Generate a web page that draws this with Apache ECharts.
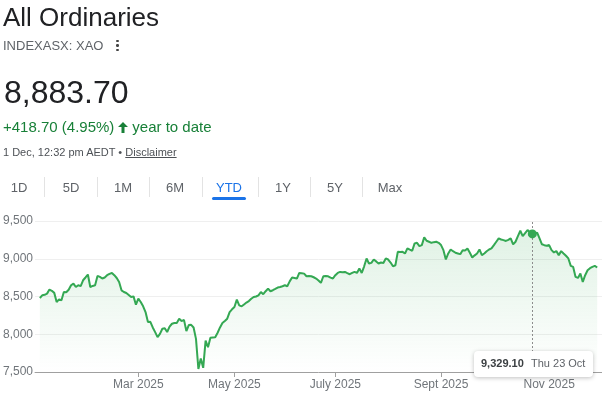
<!DOCTYPE html>
<html>
<head>
<meta charset="utf-8">
<title>All Ordinaries</title>
<script src="https://cdn.jsdelivr.net/npm/echarts@6/dist/echarts.min.js"></script>
<style>
  html, body { margin: 0; padding: 0; background: #fff; }
  body { width: 602px; height: 399px; position: relative; overflow: hidden; font-family: Arial, "Liberation Sans", sans-serif; }
  #chart { position: absolute; left: 0; top: 0; width: 602px; height: 399px; }
  .t { position: absolute; white-space: nowrap; }
  .title { left: 3px; top: 4px; font-size: 26px; line-height: 26px; color: #202124; }
  .ticker { left: 3px; top: 39px; font-size: 13px; line-height: 13px; color: #5f6368; }
  .dot { position: absolute; left: 116px; width: 2.5px; height: 2.5px; border-radius: 50%; background: #444; }
  .price { left: 4px; top: 76px; font-size: 32px; line-height: 32px; color: #202124; }
  .change { left: 3px; top: 119px; font-size: 15px; line-height: 15px; color: #188038; }
  .change svg { vertical-align: -1px; margin: 0 4px 0 4px; }
  .stamp { left: 3px; top: 147px; font-size: 11px; line-height: 11px; color: #4d5156; }
  .stamp u { color: #4d5156; }
  .tab { position: absolute; top: 181px; width: 50px; text-align: center; font-size: 13px; line-height: 13px; color: #5f6368; }
  .sep { position: absolute; top: 177px; width: 1px; height: 20px; background: #e3e3e3; }
  .under { position: absolute; left: 212px; top: 197px; width: 34px; height: 3px; border-radius: 2px; background: #1a73e8; }
</style>
</head>
<body>
<div id="chart"></div>

<div class="t title">All Ordinaries</div>
<div class="t ticker">INDEXASX: XAO</div>
<div class="dot" style="top:39.5px"></div>
<div class="dot" style="top:44px"></div>
<div class="dot" style="top:48.5px"></div>
<div class="t price">8,883.70</div>
<div class="t change">+418.70 (4.95%)<svg width="10" height="11" viewBox="0 0 10 11"><path d="M5 0 L10 5 L6.5 5 L6.5 11 L3.5 11 L3.5 5 L0 5 Z" fill="#188038"/></svg>year to date</div>
<div class="t stamp">1 Dec, 12:32 pm AEDT &bull; <u>Disclaimer</u></div>

<div class="tab" style="left:-6px">1D</div>
<div class="tab" style="left:46px">5D</div>
<div class="tab" style="left:98px">1M</div>
<div class="tab" style="left:150px">6M</div>
<div class="tab" style="left:204px;color:#1a73e8">YTD</div>
<div class="tab" style="left:258px">1Y</div>
<div class="tab" style="left:310px">5Y</div>
<div class="tab" style="left:365px">Max</div>
<div class="sep" style="left:44px"></div>
<div class="sep" style="left:97px"></div>
<div class="sep" style="left:149px"></div>
<div class="sep" style="left:202px"></div>
<div class="sep" style="left:258px"></div>
<div class="sep" style="left:310px"></div>
<div class="sep" style="left:362px"></div>
<div class="under"></div>

<script>
// closing values, one per ASX trading day (2 Jan - 1 Dec 2025)
const jan = [8480, 8516, 8522, 8538, 8592, 8575, 8548, 8427, 8462, 8450, 8560, 8556, 8590, 8649, 8671, 8626, 8649, 8638, 8715, 8752, 8791];
const feb = [8626, 8640, 8649, 8773, 8760, 8738, 8752, 8782, 8800, 8812, 8782, 8745, 8693, 8582, 8560, 8546, 8520, 8493, 8502, 8392];
const mar = [8472, 8427, 8370, 8294, 8161, 8165, 8090, 8028, 7961, 8005, 8073, 8080, 8030, 8100, 8139, 8148, 8150, 8206, 8175, 8190, 8042];
const apr = [8122, 8125, 8090, 7939, 7540, 7680, 7555, 7916, 7828, 7953, 7958, 7960, 8020, 8090, 8148, 8175, 8206, 8294, 8330];
const may = [8361, 8459, 8383, 8370, 8395, 8420, 8440, 8470, 8493, 8500, 8516, 8560, 8530, 8570, 8605, 8570, 8583, 8600, 8618, 8625, 8636, 8649];
const jun = [8636, 8700, 8751, 8745, 8738, 8812, 8808, 8803, 8768, 8770, 8768, 8755, 8738, 8712, 8680, 8768, 8772, 8768, 8750, 8738];
const jul = [8782, 8812, 8826, 8822, 8826, 8810, 8795, 8812, 8826, 8812, 8871, 8812, 8900, 9004, 8937, 8945, 8990, 8965, 8937, 8950, 8945, 9004, 8990];
const aug = [8950, 8901, 8914, 9092, 9090, 9092, 9070, 9137, 9120, 9106, 9203, 9211, 9168, 9181, 9283, 9238, 9225, 9211, 9220, 9225, 9211];
const sep = [9181, 9114, 8990, 9070, 9123, 9100, 9079, 9070, 9061, 9114, 9110, 9137, 9080, 9017, 9045, 9070, 9123, 9048, 9070, 9100, 9123, 9137];
const oct = [9180, 9225, 9270, 9255, 9247, 9236, 9250, 9270, 9190, 9225, 9300, 9371, 9300, 9340, 9380, 9350, 9329.1, 9336, 9345, 9270, 9192, 9180, 9172];
const nov = [9181, 9114, 9083, 9101, 9048, 9101, 9070, 9040, 9004, 8905, 8892, 8759, 8746, 8804, 8693, 8782, 8848, 8875, 8892, 8905];
const dec = [8883.7];

const closes = [].concat(jan, feb, mar, apr, may, jun, jul, aug, sep, oct, nov, dec);

// trading-day index of the first session of each labelled month
const tickIdx = [41, 81, 123, 167, 212];
const tickLabels = ['Mar 2025', 'May 2025', 'July 2025', 'Sept 2025', 'Nov 2025'];

// hovered point
const hoverIdx = 205;
const hoverDate = 'Thu 23 Oct';

const green = '#34a853';
const fmt = (v) => v.toLocaleString('en-US');

let myChart = echarts.init(document.getElementById('chart'));
myChart.setOption({
  animation: false,
  grid: { left: 35, right: 0, top: 221, bottom: 27 },
  xAxis: {
    type: 'value',
    min: -2,
    max: 234,
    splitLine: { show: false },
    axisLine: { show: true, lineStyle: { color: '#a0a0a0', width: 1 } },
    axisTick: { show: true, customValues: tickIdx, length: 5, lineStyle: { color: '#a0a0a0' } },
    axisLabel: {
      customValues: tickIdx,
      margin: 7,
      color: '#70757a',
      fontSize: 12,
      fontFamily: 'Arial',
      formatter: function (v) {
        return tickLabels[tickIdx.indexOf(v)];
      }
    }
  },
  yAxis: {
    type: 'value',
    min: 7500,
    max: 9500,
    interval: 500,
    axisLine: { show: false },
    axisTick: { show: false },
    splitLine: { lineStyle: { color: '#efefef', width: 1 } },
    axisLabel: { margin: 2, color: '#70757a', fontSize: 12, fontFamily: 'Arial', formatter: fmt }
  },
  series: [
    {
      type: 'line',
      data: closes.map((v, i) => [i, v]),
      showSymbol: false,
      lineStyle: { color: green, width: 2 },
      areaStyle: {
        origin: 'start',
        color: new echarts.graphic.LinearGradient(0, 0, 0, 1, [
          { offset: 0, color: 'rgba(52,168,83,0.22)' },
          { offset: 1, color: 'rgba(52,168,83,0)' }
        ])
      },
      markLine: {
        silent: true,
        symbol: 'none',
        label: { show: false },
        lineStyle: { color: '#8c8c8c', type: [2, 2], width: 1 },
        data: [{ xAxis: hoverIdx }]
      },
      markPoint: {
        symbol: 'circle',
        symbolSize: 9,
        itemStyle: { color: green },
        label: { show: false },
        data: [{ coord: [hoverIdx, closes[hoverIdx]] }]
      }
    }
  ]
});

// hover tooltip box under the marker
const p = myChart.convertToPixel({ gridIndex: 0 }, [hoverIdx, closes[hoverIdx]]);
const axisY = myChart.convertToPixel({ yAxisIndex: 0 }, 7500);
const bx = Math.round(p[0]) - 58;
const by = Math.round(axisY) - 21;
myChart.setOption({
  graphic: [
    {
      type: 'rect',
      z: 100,
      shape: { x: bx, y: by, width: 119, height: 26, r: 4 },
      style: { fill: '#fff', shadowBlur: 4, shadowColor: 'rgba(0,0,0,0.25)', shadowOffsetY: 1 }
    },
    {
      type: 'text',
      z: 101,
      x: bx + 7,
      y: by + 13,
      style: {
        text: closes[hoverIdx].toLocaleString('en-US', { minimumFractionDigits: 2 }),
        font: 'bold 11px Arial',
        fill: '#3c4043',
        verticalAlign: 'middle'
      }
    },
    {
      type: 'text',
      z: 101,
      x: bx + 57,
      y: by + 13,
      style: { text: hoverDate, font: '11px Arial', fill: '#5f6368', verticalAlign: 'middle' }
    }
  ]
});
</script>
</body>
</html>
